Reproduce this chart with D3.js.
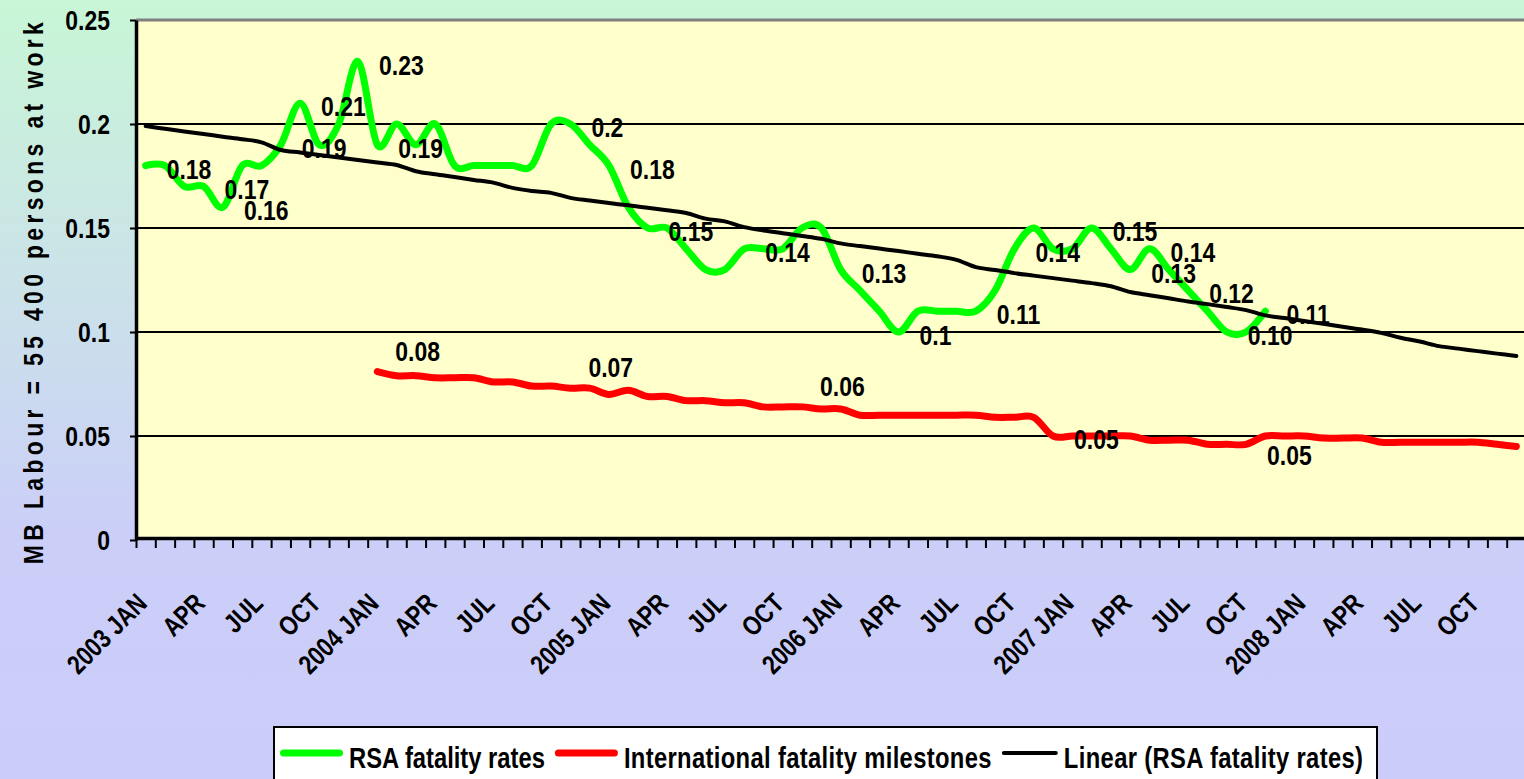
<!DOCTYPE html>
<html><head><meta charset="utf-8">
<script src="https://cdn.jsdelivr.net/npm/d3@7"></script>
<style>html,body{margin:0;padding:0;overflow:hidden;background:#ccccfa}svg{display:block}</style>
</head><body>
<svg id="chart" width="1524" height="779"></svg>
<script>
// ---------- data ----------
const years = ["2003","2004","2005","2006","2007","2008"];
const monthNames = ["JAN","FEB","MAR","APR","MAY","JUN","JUL","AUG","SEP","OCT","NOV","DEC"];
const categories = [];
years.forEach(yr => monthNames.forEach((m, k) => categories.push(k === 0 ? yr + " JAN" : m)));

const rsaRates = [0.18,0.18,0.17,0.17,0.16,0.18,0.18,0.19,0.21,0.19,
  0.20,0.23,0.19,0.20,0.19,0.20,0.18,0.18,0.18,0.18,
  0.18,0.20,0.20,0.19,0.18,0.16,0.15,0.15,0.14,0.13,
  0.13,0.14,0.14,0.14,0.15,0.15,0.13,0.12,0.11,0.10,
  0.11,0.11,0.11,0.11,0.12,0.14,0.15,0.14,0.14,0.15,
  0.14,0.13,0.14,0.13,0.12,0.11,0.10,0.10,0.11];

const intlMilestones = [null,null,null,null,null,null,null,null,null,null,null,null,
  0.081,0.079,0.079,0.078,0.078,0.078,0.076,0.076,0.074,0.074,
  0.073,0.073,0.070,0.072,0.069,0.069,0.067,0.067,0.066,0.066,
  0.064,0.064,0.064,0.063,0.063,0.060,0.060,0.060,0.060,0.060,
  0.060,0.060,0.059,0.059,0.059,0.050,0.050,0.050,0.050,0.050,
  0.048,0.048,0.048,0.046,0.046,0.046,0.050,0.050,0.050,0.049,
  0.049,0.049,0.047,0.047,0.047,0.047,0.047,0.047,0.046,0.045];

const linearTrend = [0.1990,0.1977,0.1964,0.1952,0.1939,0.1927,0.1912,0.1875,0.1863,0.1851,
  0.1839,0.1827,0.1815,0.1803,0.1773,0.1758,0.1745,0.1731,0.1718,0.1693,
  0.1678,0.1669,0.1645,0.1632,0.1620,0.1609,0.1597,0.1585,0.1572,0.1545,
  0.1532,0.1504,0.1488,0.1475,0.1462,0.1448,0.1426,0.1413,0.1401,0.1389,
  0.1376,0.1364,0.1347,0.1312,0.1298,0.1283,0.1271,0.1259,0.1247,0.1235,
  0.1220,0.1192,0.1177,0.1162,0.1147,0.1134,0.1120,0.1105,0.1080,0.1067,
  0.1053,0.1039,0.1025,0.1012,0.0996,0.0972,0.0954,0.0932,0.0920,0.0908,
  0.0896,0.0885];

// data labels: [index, text, placement]
const rsaLabels = [[0,"0.18","right"],[3,"0.17","right"],[4,"0.16","right"],[7,"0.19","right"],
  [8,"0.21","right"],[11,"0.23","right"],[12,"0.19","right"],[22,"0.2","right"],
  [24,"0.18","right"],[26,"0.15","right"],[31,"0.14","right"],[36,"0.13","right"],
  [39,"0.1","right"],[43,"0.11","right"],[45,"0.14","right"],[49,"0.15","right"],
  [51,"0.13","right"],[52,"0.14","right"],[54,"0.12","right"],[56,"0.10","right"],
  [58,"0.11","right"]];
const intlLabels = [[12,"0.08","aboveRight"],[22,"0.07","aboveRight"],[34,"0.06","aboveRight"],
  [47,"0.05","right"],[57,"0.05","belowRight"]];

const yTicks = [0,0.05,0.1,0.15,0.2,0.25];
const yTickLabels = ["0","0.05","0.1","0.15","0.2","0.25"];
const yTitle = "MB Labour = 55 400 persons at work";
const seriesNames = ["RSA fatality rates","International fatality milestones","Linear (RSA fatality rates)"];
const seriesColors = ["#00ff00","#ff0000","#000000"];

// ---------- drawing ----------
const FONT = "'Liberation Sans',Arial,sans-serif";
const SX = 0.82; // horizontal squeeze to mimic a narrow bold face
const svg = d3.select("#chart");
const defs = svg.append("defs");
const grad = defs.append("linearGradient").attr("id","bg").attr("x1",0).attr("y1",0).attr("x2",0).attr("y2",1);
[[0,"#c8f6d6"],[0.35,"#cbe3e8"],[0.68,"#cbcff8"],[1,"#ccccfa"]].forEach(([o,c]) =>
  grad.append("stop").attr("offset",o).attr("stop-color",c));
svg.append("rect").attr("width",1524).attr("height",779).attr("fill","url(#bg)");

function ntext(g, x, y, str, size, anchor, rot){
  return g.append("text")
    .attr("transform",`translate(${x},${y})${rot ? ` rotate(${rot})` : ""} scale(${SX},1)`)
    .attr("text-anchor",anchor).attr("font-family",FONT).attr("font-weight","bold")
    .attr("font-size",size).attr("fill","#000").text(str);
}

const x0 = 136, x1 = 1526;
const xBand = d3.scaleBand().domain(d3.range(categories.length)).range([x0,x1]);
const xc = i => xBand(i) + xBand.bandwidth()/2;
const xEdge = d3.scaleLinear().domain([0,categories.length]).range([x0,x1]);
const y = d3.scaleLinear().domain([0,0.25]).range([540,20]);

// plot area
svg.append("rect").attr("x",x0).attr("y",y(0.25)).attr("width",x1-x0+10).attr("height",y(0)-y(0.25)).attr("fill","#ffffcc");
svg.append("line").attr("x1",x0).attr("x2",1524).attr("y1",y(0.25)).attr("y2",y(0.25))
  .attr("stroke","#808080").attr("stroke-width",3);
svg.append("g").selectAll("line").data(yTicks.filter(v => v > 0 && v < 0.25)).join("line")
  .attr("x1",x0).attr("x2",1524).attr("y1",d=>y(d)).attr("y2",d=>y(d))
  .attr("stroke","#000").attr("stroke-width",2);

// y axis
const yAxis = svg.append("g").attr("transform",`translate(${x0},0)`)
  .call(d3.axisLeft(y).tickValues(yTicks).tickSize(6).tickSizeOuter(0).tickFormat(""));
yAxis.select(".domain").attr("stroke","#000").attr("stroke-width",3.5);
yAxis.selectAll(".tick line").attr("stroke","#000").attr("stroke-width",2);
const yLab = svg.append("g");
yTicks.forEach((v,i) => ntext(yLab, 110, y(v)+10, yTickLabels[i], 28, "end"));

// x axis
const xAxis = svg.append("g").attr("transform","translate(0,538)")
  .call(d3.axisBottom(xEdge).tickValues(d3.range(categories.length+1)).tickSize(10).tickSizeOuter(0).tickFormat(""));
xAxis.select(".domain").attr("stroke","#000").attr("stroke-width",3.5);
xAxis.selectAll(".tick line").attr("stroke","#000").attr("stroke-width",2);
const xLab = svg.append("g");
categories.forEach((c,i) => { if (i % 3 === 0) ntext(xLab, xc(i)+3, 605, c, 27, "end", -45); });

// y title
ntext(svg, 43, 291, yTitle, 28, "middle", -90).attr("letter-spacing","5.3px");

// lines
const mkLine = d3.line().defined(d=>d!=null).x((d,i)=>xc(i)).y(d=>y(d)).curve(d3.curveCatmullRom.alpha(0));
svg.append("path").datum(rsaRates).attr("d",mkLine).attr("fill","none")
  .attr("stroke",seriesColors[0]).attr("stroke-width",7).attr("stroke-linejoin","round").attr("stroke-linecap","round");
svg.append("path").datum(intlMilestones).attr("d",mkLine).attr("fill","none")
  .attr("stroke",seriesColors[1]).attr("stroke-width",7).attr("stroke-linejoin","round").attr("stroke-linecap","round");
svg.append("path").datum(linearTrend).attr("d",mkLine).attr("fill","none")
  .attr("stroke",seriesColors[2]).attr("stroke-width",4).attr("stroke-linejoin","round").attr("stroke-linecap","round");

// data labels
const CAP = 20;
const place = {right:[21,3], aboveRight:[18,-21], belowRight:[21,11]};
function drawLabels(list, values){
  const g = svg.append("g");
  list.forEach(d => ntext(g, xc(d[0]) + place[d[2]][0], y(values[d[0]]) + place[d[2]][1] + CAP/2, d[1], 28, "start"));
}
drawLabels(rsaLabels, rsaRates);
drawLabels(intlLabels, intlMilestones);

// legend
const lg = svg.append("g");
lg.append("rect").attr("x",274).attr("y",727).attr("width",1103).attr("height",80)
  .attr("fill","#fff").attr("stroke","#000").attr("stroke-width",2);
const legendSpacing = [0, 0.42, 0.45];
const legendTextGap = [69, 69, 62];
let lx = 280;
seriesNames.forEach((name,k) => {
  const lw = k === 2 ? 4 : 7;
  lg.append("line").attr("x1",lx+lw/2).attr("x2",lx+legendTextGap[k]-6-lw/2).attr("y1",753).attr("y2",753)
    .attr("stroke",seriesColors[k]).attr("stroke-width",lw).attr("stroke-linecap","round");
  const t = ntext(lg, lx+legendTextGap[k], 768, name, 29, "start").attr("letter-spacing",legendSpacing[k]+"px");
  lx = lx + legendTextGap[k] + t.node().getComputedTextLength()*SX + 10;
});
</script>
</body></html>
